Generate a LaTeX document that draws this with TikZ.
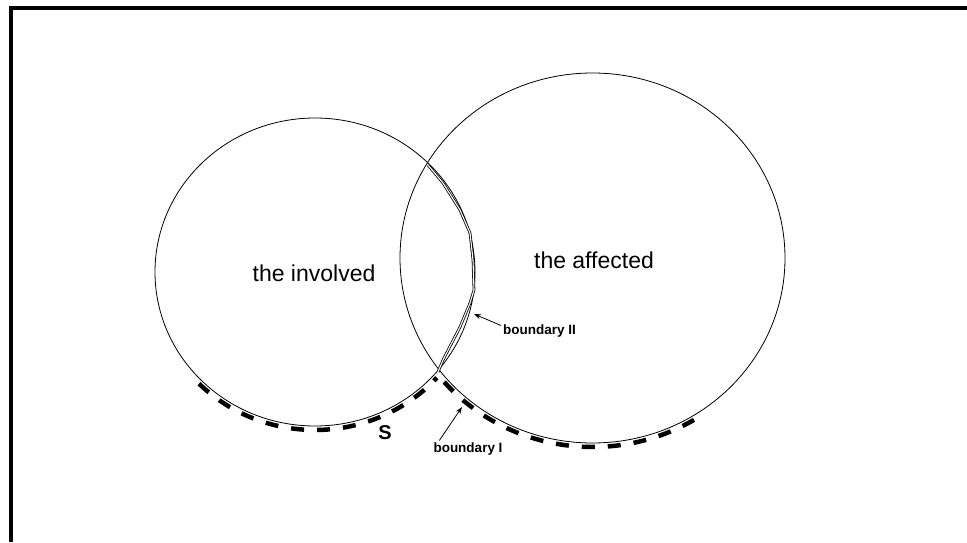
\documentclass[tikz,border=0pt]{standalone}
\usepackage{fontspec}
\setmainfont{Liberation Sans}
\usetikzlibrary{arrows.meta}
\begin{document}
\begin{tikzpicture}[x=1pt,y=1pt,
  frameline/.style={line width=4pt},
  setline/.style={line width=0.8pt},
  bdash/.style={line width=4.5pt,dash pattern=on 13pt off 13pt},
  pointer/.style={line width=0.8pt,-{Stealth[length=7pt,width=5pt]}},
  bigtxt/.style={font=\fontsize{23}{27}\selectfont,inner sep=0pt},
  smalltxt/.style={font=\fontsize{13.5}{16}\selectfont\bfseries,inner sep=0pt}]
\useasboundingbox (0,0) rectangle (967,542);
% frame
\draw[frameline] (11,0) -- (11,534) -- (967,534);
% sets
\draw[setline] (315,270) ellipse [x radius=160, y radius=154];
\draw[setline] (592.5,284) ellipse [x radius=192.5, y radius=185];
% boundary II (double polyline)
\draw[line width=0.8pt,double,double distance=1.1pt]
  (428,377) -- (443,359) -- (460,332) -- (470,309) -- (473,282)
  -- (474,252) -- (470,239) -- (460,215) -- (443,182) -- (438,170);
% boundary dashes
\draw[bdash] (315,270) ++(-135:164 and 158) arc[start angle=-135, end angle=-42, x radius=164, y radius=158];
\draw[bdash] (592.5,284) ++(-139:196.5 and 189) arc[start angle=-139, end angle=-57, x radius=196.5, y radius=189];
% labels
\node[bigtxt] (inv) at (314,269) {the involved};
\node[bigtxt] (aff) at (594,282) {the affected};
\node[font=\fontsize{20}{24}\selectfont\bfseries,inner sep=0pt] (s) at (385,109) {S};
\node[smalltxt,anchor=west] (b2) at (503,211) {boundary II};
\node[smalltxt] (b1) at (468,93) {boundary I};
\coordinate (t2) at (474,228);
\coordinate (t1) at (462,135);
\draw[pointer] (b2.north west) ++(-2,-1) -- (t2);
\draw[pointer] (b1.north west) ++(6,2) -- (t1);
\end{tikzpicture}
\end{document}
